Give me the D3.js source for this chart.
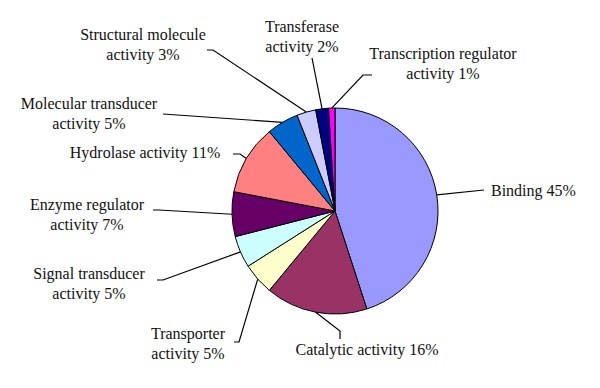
<!DOCTYPE html>
<html>
<head>
<meta charset="utf-8">
<script src="https://cdn.jsdelivr.net/npm/d3@7.9.0/dist/d3.min.js"></script>
</head>
<body style="margin:0">
<svg id="go-pie" width="600" height="388"></svg>
<script>
const categories = [
  'Binding', 'Catalytic activity', 'Transporter activity', 'Signal transducer activity',
  'Enzyme regulator activity', 'Hydrolase activity', 'Molecular transducer activity',
  'Structural molecule activity', 'Transferase activity', 'Transcription regulator activity'
];
const values = [45, 16, 5, 5, 7, 11, 5, 3, 2, 1];
const labelLines = [
  ['Binding 45%'],
  ['Catalytic activity 16%'],
  ['Transporter', 'activity 5%'],
  ['Signal transducer', 'activity 5%'],
  ['Enzyme regulator', 'activity 7%'],
  ['Hydrolase activity 11%'],
  ['Molecular transducer', 'activity 5%'],
  ['Structural molecule', 'activity 3%'],
  ['Transferase', 'activity 2%'],
  ['Transcription regulator', 'activity 1%']
];
const colors = ['#9999ff', '#993366', '#ffffcc', '#ccffff', '#660066',
                '#ff8080', '#0066cc', '#ccccff', '#000080', '#ff00ff'];

// where each label sits and how its leader bends (x, y = first baseline)
const labelLayout = [
  { x: 491, y: 196, anchor: 'start', leader: [[484, 190]] },
  { x: 367, y: 355, anchor: 'middle', leader: [[340, 331], [340, 339]] },
  { x: 188, y: 339, anchor: 'middle', leader: [[239, 342], [234, 342]] },
  { x: 89, y: 279, anchor: 'middle', leader: [[163, 280], [157, 280]] },
  { x: 87, y: 210, anchor: 'middle', leader: [[159, 210], [153, 210]] },
  { x: 145, y: 158, anchor: 'middle', leader: [[240, 154], [233, 154]] },
  { x: 89, y: 109, anchor: 'middle', leader: [[163, 114]] },
  { x: 143, y: 40, anchor: 'middle', leader: [[213, 50], [207, 50]] },
  { x: 302, y: 32, anchor: 'middle', leader: [[312, 58]] },
  { x: 443, y: 59, anchor: 'middle', leader: [[363, 75], [372, 75]] }
];

const cx = 335, cy = 211, radius = 103;
const lineHeight = 20;

const svg = d3.select('#go-pie');
const g = svg.append('g').attr('transform', `translate(${cx},${cy})`);

const pie = d3.pie().sort(null).value(d => d);
const arcs = pie(values);

const arc = d3.arc().innerRadius(0).outerRadius(radius);
const edge = d3.arc().innerRadius(radius).outerRadius(radius);

g.selectAll('path.slice')
  .data(arcs)
  .join('path')
  .attr('class', 'slice')
  .attr('d', arc)
  .attr('fill', (d, i) => colors[i])
  .attr('stroke', '#000')
  .attr('stroke-width', 1)
  .attr('stroke-linejoin', 'round');

// leader lines from slice edge to label
const line = d3.line();
svg.selectAll('path.leader')
  .data(arcs)
  .join('path')
  .attr('class', 'leader')
  .attr('fill', 'none')
  .attr('stroke', '#000')
  .attr('stroke-width', 1.2)
  .attr('d', (d, i) => {
    const [px, py] = edge.centroid(d);
    return line([[px + cx, py + cy], ...labelLayout[i].leader]);
  });

labelLines.forEach((lines, i) => {
  const lay = labelLayout[i];
  const t = svg.append('text')
    .attr('font-family', 'Liberation Serif')
    .attr('font-size', 16)
    .attr('fill', '#111')
    .attr('text-anchor', lay.anchor)
    .attr('x', lay.x)
    .attr('y', lay.y);
  lines.forEach((s, j) => {
    t.append('tspan')
      .attr('x', lay.x)
      .attr('dy', j === 0 ? 0 : lineHeight)
      .text(s);
  });
});
</script>
</body>
</html>
